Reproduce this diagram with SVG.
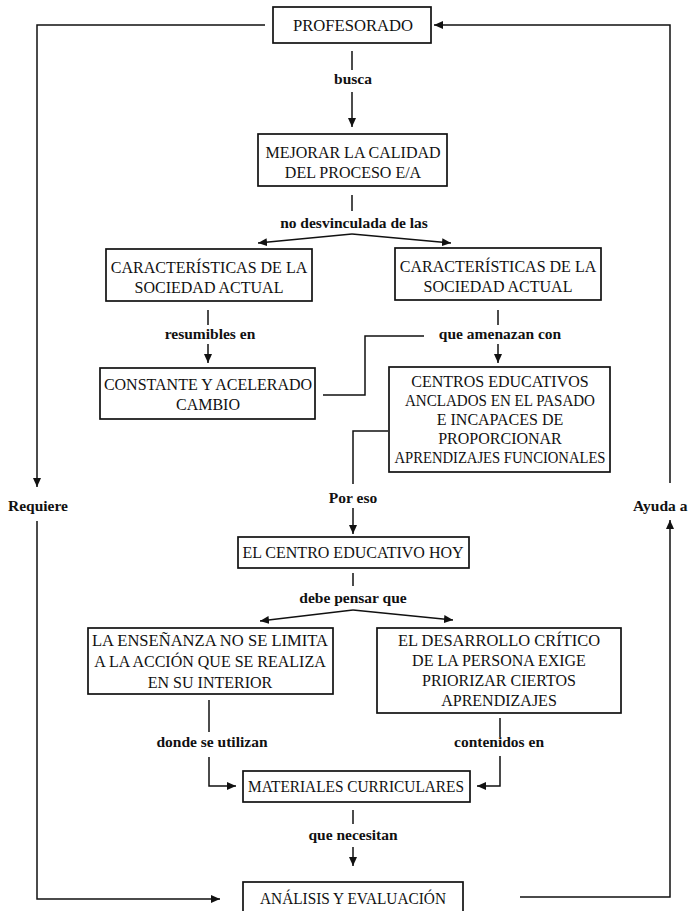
<svg xmlns="http://www.w3.org/2000/svg" width="699" height="911" viewBox="0 0 699 911">
<style>
.box{fill:#fff;stroke:#111;stroke-width:1.7}
.nt{font-family:"Liberation Serif","DejaVu Serif",serif;font-size:16px;fill:#111;text-anchor:middle}
.lb{font-family:"Liberation Serif","DejaVu Serif",serif;font-size:15.5px;fill:#111;text-anchor:middle;font-weight:bold}
.ln{fill:none;stroke:#111;stroke-width:1.5}
.ar{fill:none;stroke:#111;stroke-width:1.5;marker-end:url(#ah)}
</style>
<defs>
<marker id="ah" markerUnits="userSpaceOnUse" markerWidth="9" markerHeight="8" refX="9" refY="4" orient="auto">
<path d="M0,0 L9,4 L0,8 z" fill="#111"/>
</marker>
</defs>
<rect width="699" height="911" fill="#fff"/>
<g id="connectors">
<polyline class="ar" points="265,25 37,25 37,487"/>
<polyline class="ar" points="37,521 37,899 220,899"/>
<polyline class="ar" points="520,897 670,897 670,520"/>
<polyline class="ar" points="670,483 670,25 434,25"/>
<line class="ln" x1="352" y1="51" x2="352" y2="70"/>
<line class="ar" x1="352" y1="92" x2="352" y2="127"/>
<line class="ln" x1="352" y1="195" x2="352" y2="211"/>
<line class="ar" x1="352" y1="234" x2="258" y2="243"/>
<line class="ar" x1="352" y1="234" x2="451" y2="243"/>
<line class="ln" x1="208" y1="310" x2="208" y2="325"/>
<line class="ar" x1="208" y1="344" x2="208" y2="363"/>
<line class="ln" x1="498" y1="310" x2="498" y2="325"/>
<line class="ar" x1="498" y1="344" x2="498" y2="363"/>
<polyline class="ln" points="323,395 365,395 365,336 424,336"/>
<polyline class="ln" points="388,431 353,431 353,484"/>
<line class="ar" x1="353" y1="508" x2="353" y2="534"/>
<line class="ln" x1="353" y1="573" x2="353" y2="586"/>
<line class="ar" x1="353" y1="610" x2="260" y2="621"/>
<line class="ar" x1="353" y1="610" x2="453" y2="620"/>
<polyline class="ln" points="209,700 209,732"/>
<polyline class="ar" points="209,757 209,786 236,786"/>
<polyline class="ln" points="500,718 500,737"/>
<polyline class="ar" points="500,756 500,786 477,786"/>
<line class="ln" x1="353" y1="810" x2="353" y2="824"/>
<line class="ar" x1="353" y1="847" x2="353" y2="866"/>
</g>
<g id="labels">
<text class="lb" x="353" y="84">busca</text>
<text class="lb" x="354" y="228">no desvinculada de las</text>
<text class="lb" x="210" y="339">resumibles en</text>
<text class="lb" x="500" y="339">que amenazan con</text>
<text class="lb" x="8" y="511" style="text-anchor:start">Requiere</text>
<text class="lb" x="353" y="503">Por eso</text>
<text class="lb" x="633" y="511" style="text-anchor:start">Ayuda a</text>
<text class="lb" x="353" y="603">debe pensar que</text>
<text class="lb" x="212" y="747">donde se utilizan</text>
<text class="lb" x="499" y="747">contenidos en</text>
<text class="lb" x="353" y="840">que necesitan</text>
</g>
<g id="n1"><rect class="box" x="273" y="7" width="158" height="36"/><text class="nt" x="353" y="31" textLength="120" lengthAdjust="spacingAndGlyphs">PROFESORADO</text></g>
<g id="n2"><rect class="box" x="258" y="134" width="189" height="52"/><text class="nt" x="353" y="158">MEJORAR LA CALIDAD</text><text class="nt" x="353" y="178">DEL PROCESO E/A</text></g>
<g id="n3"><rect class="box" x="106" y="249" width="206" height="52"/><text class="nt" x="209" y="273">CARACTERÍSTICAS DE LA</text><text class="nt" x="209" y="293">SOCIEDAD ACTUAL</text></g>
<g id="n4"><rect class="box" x="395" y="248" width="206" height="52"/><text class="nt" x="498" y="272">CARACTERÍSTICAS DE LA</text><text class="nt" x="498" y="292">SOCIEDAD ACTUAL</text></g>
<g id="n5"><rect class="box" x="100" y="368" width="215" height="51"/><text class="nt" x="208" y="390">CONSTANTE Y ACELERADO</text><text class="nt" x="208" y="410">CAMBIO</text></g>
<g id="n6"><rect class="box" x="389" y="367" width="221" height="105"/><text class="nt" x="500" y="387">CENTROS EDUCATIVOS</text><text class="nt" x="500" y="406" textLength="190" lengthAdjust="spacingAndGlyphs">ANCLADOS EN EL PASADO</text><text class="nt" x="500" y="425">E INCAPACES DE</text><text class="nt" x="500" y="444">PROPORCIONAR</text><text class="nt" x="500" y="463" textLength="211" lengthAdjust="spacingAndGlyphs">APRENDIZAJES FUNCIONALES</text></g>
<g id="n7"><rect class="box" x="238" y="537" width="231" height="31"/><text class="nt" x="353" y="558">EL CENTRO EDUCATIVO HOY</text></g>
<g id="n8"><rect class="box" x="88" y="628" width="245" height="66"/><text class="nt" x="210" y="646" textLength="236" lengthAdjust="spacingAndGlyphs">LA ENSEÑANZA NO SE LIMITA</text><text class="nt" x="210" y="667">A LA ACCIÓN QUE SE REALIZA</text><text class="nt" x="210" y="688">EN SU INTERIOR</text></g>
<g id="n9"><rect class="box" x="377" y="628" width="244" height="85"/><text class="nt" x="499" y="646" textLength="202" lengthAdjust="spacingAndGlyphs">EL DESARROLLO CRÍTICO</text><text class="nt" x="499" y="666">DE LA PERSONA EXIGE</text><text class="nt" x="499" y="686">PRIORIZAR CIERTOS</text><text class="nt" x="499" y="706">APRENDIZAJES</text></g>
<g id="n10"><rect class="box" x="243" y="771" width="227" height="31"/><text class="nt" x="356" y="792" textLength="216" lengthAdjust="spacingAndGlyphs">MATERIALES CURRICULARES</text></g>
<g id="n11"><rect class="box" x="243" y="882" width="220" height="40"/><text class="nt" x="353" y="904" textLength="186" lengthAdjust="spacingAndGlyphs">ANÁLISIS Y EVALUACIÓN</text></g>
</svg>
